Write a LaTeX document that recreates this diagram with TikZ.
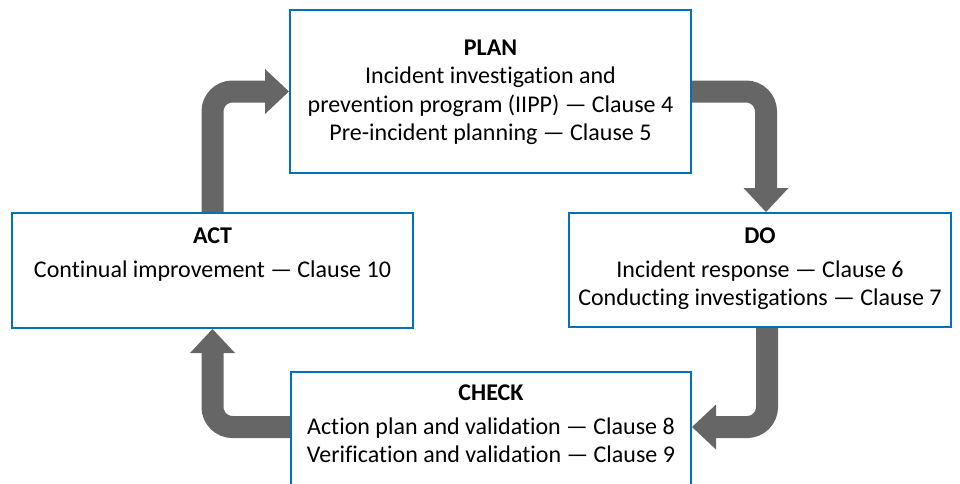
\documentclass[tikz,border=0pt]{standalone}
\usepackage{fontspec}
\setmainfont{Carlito}[RawFeature={-liga}]
\usetikzlibrary{arrows.meta,calc}
\definecolor{boxblue}{RGB}{0,112,192}
\definecolor{arrowgray}{RGB}{102,102,102}
\begin{document}
\begin{tikzpicture}[x=1pt,y=-1pt,
  box/.style={draw=boxblue,line width=2pt,fill=white,inner sep=0pt},
  txt/.style={align=center,inner sep=0pt,font=\fontsize{24}{28.5}\selectfont},
  flow/.style={draw=arrowgray,line width=22pt,rounded corners=20pt,
    -{Triangle[width=45pt,length=24pt,line width=0pt]}}]
\useasboundingbox (0,0) rectangle (960,483);
% boxes
\node[box,minimum width=401pt,minimum height=163pt] (plan) at (490.5,91.5) {};
\node[box,minimum width=382pt,minimum height=114pt] (do) at (760,270) {};
\node[box,minimum width=401pt,minimum height=115pt] (act) at (212.5,270.5) {};
\node[box,minimum width=400pt,minimum height=120pt] (check) at (491,432) {};
% texts
\node[txt] (plantxt) at (490.5,92.5) {\strut\textbf{PLAN}\\\strut Incident investigation and\\\strut prevention program (IIPP) — Clause 4\\\strut Pre-incident planning — Clause 5};
\node[txt] (dotxt) at (760,269) {\strut\textbf{DO}\\[5.5pt]\strut Incident response — Clause 6\\\strut Conducting investigations — Clause 7};
\node[txt] (acttxt) at (212.5,255) {\strut\textbf{ACT}\\[5.5pt]\strut Continual improvement — Clause 10};
\node[txt] (checktxt) at (491,426) {\strut\textbf{CHECK}\\[5.5pt]\strut Action plan and validation — Clause 8\\\strut Verification and validation — Clause 9};
% arrows
\draw[flow] (act.north) |- (plan.west);
\draw[flow] (plan.east) -| ([xshift=6pt]do.north);
\draw[flow] ([xshift=7pt]do.south) |- ([yshift=5pt]check.east);
\draw[flow] ([yshift=5pt]check.west) -| (act.south);
\end{tikzpicture}
\end{document}
